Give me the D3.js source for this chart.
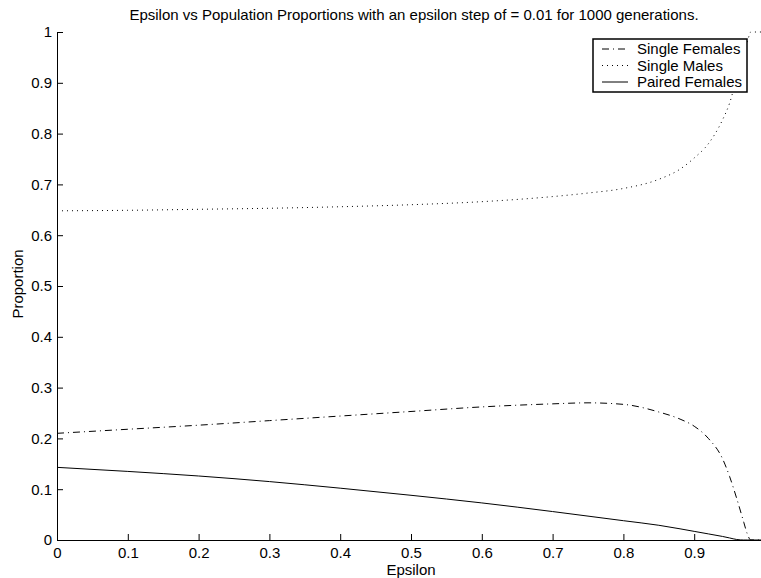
<!DOCTYPE html>
<html>
<head>
<meta charset="utf-8">
<script src="https://cdn.jsdelivr.net/npm/d3@7"></script>
<style>
  body { margin: 0; background: #fff; }
  svg { display: block; overflow: hidden; }
  text { font-family: "Liberation Sans", Arial, sans-serif; fill: #000; }
</style>
</head>
<body>
<svg id="chart" width="761" height="578"></svg>
<script>
// epsilon values
let epsilon = [0, 0.1, 0.2, 0.3, 0.4, 0.5, 0.6, 0.7, 0.75, 0.8, 0.85, 0.88, 0.9, 0.92, 0.94, 0.95, 0.96, 0.97, 0.975, 0.98, 1.0];
let singleFemales = [0.21, 0.218, 0.226, 0.235, 0.244, 0.253, 0.262, 0.268, 0.27, 0.267, 0.252, 0.238, 0.224, 0.2, 0.16, 0.125, 0.082, 0.035, 0.012, 0, 0];
let singleMales = [0.648, 0.649, 0.651, 0.653, 0.656, 0.66, 0.666, 0.676, 0.683, 0.692, 0.71, 0.73, 0.752, 0.78, 0.827, 0.86, 0.91, 0.955, 0.98, 1.0, 1.0];
let pairedFemales = [0.143, 0.135, 0.126, 0.115, 0.102, 0.088, 0.073, 0.056, 0.047, 0.038, 0.029, 0.022, 0.017, 0.012, 0.007, 0.004, 0.001, 0, 0, 0, 0];

let seriesNames = ["Single Females", "Single Males", "Paired Females"];
let xTicks = [0, 0.1, 0.2, 0.3, 0.4, 0.5, 0.6, 0.7, 0.8, 0.9, 1];
let yTicks = [0, 0.1, 0.2, 0.3, 0.4, 0.5, 0.6, 0.7, 0.8, 0.9, 1];

let dashes = ["7,4,1,4", "1,4", null];

let chart = d3.select("#chart");

let x = d3.scaleLinear().domain([0, 1]).range([57, 765]);
let y = d3.scaleLinear().domain([0, 1]).range([540, 32]);

// x axis, ticks pointing inward like matlab
let xAxis = chart.append("g")
  .attr("transform", "translate(0,540)")
  .call(d3.axisBottom(x).tickValues(xTicks).tickSize(-6).tickSizeOuter(0).tickPadding(7)
    .tickFormat(d3.format("~g")));

let yAxis = chart.append("g")
  .attr("transform", "translate(57,0)")
  .call(d3.axisLeft(y).tickValues(yTicks).tickSize(-6).tickSizeOuter(0).tickPadding(5)
    .tickFormat(d3.format("~g")));

[xAxis, yAxis].forEach((a) => {
  a.select(".domain").attr("stroke", "#000").attr("stroke-width", 1);
  a.selectAll(".tick line").attr("stroke", "#000");
  a.selectAll("text").style("font-size", "15px").attr("fill", "#000");
});

let line = d3.line()
  .x((d) => x(d[0]))
  .y((d) => y(d[1]))
  .curve(d3.curveMonotoneX);

[singleFemales, singleMales, pairedFemales].forEach((values, i) => {
  chart.append("path")
    .datum(epsilon.map((e, j) => [e, values[j]]))
    .attr("d", line)
    .attr("fill", "none")
    .attr("stroke", "#000")
    .attr("stroke-width", 1)
    .attr("stroke-dasharray", dashes[i]);
});

// title and axis labels
chart.append("text")
  .attr("x", 414).attr("y", 20)
  .attr("text-anchor", "middle")
  .style("font-size", "15px")
  .text("Epsilon vs Population Proportions with an epsilon step of = 0.01 for 1000 generations.");

chart.append("text")
  .attr("x", 411).attr("y", 575)
  .attr("text-anchor", "middle")
  .style("font-size", "15px")
  .text("Epsilon");

chart.append("text")
  .attr("transform", "translate(23,284) rotate(-90)")
  .attr("text-anchor", "middle")
  .style("font-size", "15px")
  .text("Proportion");

// legend
let legend = chart.append("g").attr("transform", "translate(593,39)");
legend.append("rect")
  .attr("width", 154).attr("height", 53)
  .attr("fill", "#fff").attr("stroke", "#000").attr("stroke-width", 1.5);

seriesNames.forEach((name, i) => {
  let ly = 10 + i * 16.5;
  legend.append("line")
    .attr("x1", 9).attr("x2", 35).attr("y1", ly).attr("y2", ly)
    .attr("stroke", "#000").attr("stroke-width", 1)
    .attr("stroke-dasharray", dashes[i]);
  legend.append("text")
    .attr("x", 44).attr("y", ly + 5)
    .style("font-size", "15px")
    .text(name);
});
</script>
</body>
</html>
